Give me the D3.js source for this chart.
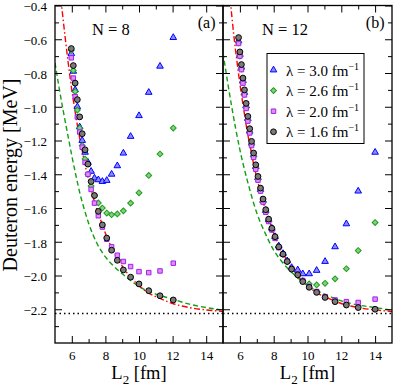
<!DOCTYPE html>
<html><head><meta charset="utf-8">
<script src="https://cdn.jsdelivr.net/npm/d3@7"></script>
<style>
body{margin:0;background:#fff}
svg{display:block}
text{font-family:"Liberation Serif","Times New Roman",serif;fill:#000}
</style>
</head><body>
<svg id="c" width="395" height="387"></svg>
<script>
// ---------- data ----------
// Panel (a): N = 8
const L8   = [5.97, 6.09, 6.2, 6.33, 6.47, 6.62, 6.79, 6.96, 7.15, 7.35, 7.58, 7.82, 8.08, 8.37, 8.71, 9.07, 9.5, 10.0, 10.58, 11.25, 12.04];
const tri8 = [-0.685, -0.79, -0.90, -1.00, -1.12, -1.20, -1.27, -1.33, -1.383, -1.423, -1.433, -1.443, -1.437, -1.40, -1.35, -1.275, -1.176, -1.053, -0.915, -0.76, -0.59];
const dia8 = [-0.665, -0.785, -0.91, -1.02, -1.126, -1.23, -1.31, -1.40, -1.47, -1.525, -1.57, -1.60, -1.63, -1.64, -1.635, -1.617, -1.571, -1.51, -1.407, -1.28, -1.126];
const sq8  = [-0.71, -0.83, -0.94, -1.06, -1.15, -1.24, -1.33, -1.40, -1.49, -1.571, -1.646, -1.713, -1.785, -1.83, -1.88, -1.917, -1.947, -1.977, -1.983, -1.973, -1.927];
const cir8 = [-0.655, -0.756, -0.86, -0.958, -1.06, -1.16, -1.255, -1.34, -1.443, -1.526, -1.62, -1.70, -1.778, -1.85, -1.91, -1.967, -2.01, -2.05, -2.09, -2.12, -2.145];

// Panel (b): N = 12
const L12   = [5.92, 6.0, 6.09, 6.18, 6.27, 6.37, 6.47, 6.58, 6.69, 6.81, 6.94, 7.07, 7.22, 7.37, 7.53, 7.70, 7.89, 8.08, 8.3, 8.55, 8.8, 9.06, 9.42, 9.72, 10.1, 10.54, 11.04, 11.63, 12.3, 13.0, 14.0];
const tri12 = [-0.61, -0.69, -0.765, -0.845, -0.915, -0.995, -1.07, -1.145, -1.215, -1.285, -1.355, -1.42, -1.49, -1.555, -1.615, -1.67, -1.72, -1.77, -1.825, -1.87, -1.913, -1.953, -1.967, -1.99, -1.99, -1.97, -1.917, -1.83, -1.694, -1.50, -1.27];
const dia12 = [-0.62, -0.70, -0.775, -0.855, -0.925, -1.005, -1.08, -1.15, -1.225, -1.295, -1.36, -1.43, -1.495, -1.56, -1.62, -1.675, -1.725, -1.775, -1.83, -1.875, -1.92, -1.965, -2.0, -2.03, -2.05, -2.056, -2.046, -2.02, -1.96, -1.852, -1.686];
const sq12  = [-0.625, -0.70, -0.78, -0.86, -0.93, -1.01, -1.085, -1.155, -1.23, -1.30, -1.37, -1.435, -1.50, -1.565, -1.625, -1.68, -1.73, -1.78, -1.835, -1.875, -1.915, -1.958, -1.99, -2.03, -2.065, -2.095, -2.125, -2.145, -2.155, -2.16, -2.14];
const cir12 = [-0.59, -0.675, -0.75, -0.83, -0.9, -0.98, -1.057, -1.13, -1.205, -1.274, -1.344, -1.413, -1.482, -1.547, -1.61, -1.666, -1.72, -1.77, -1.83, -1.873, -1.917, -1.962, -1.996, -2.036, -2.07, -2.10, -2.13, -2.155, -2.175, -2.19, -2.2];

// Red dash-dot and green dashed curves
const redL8  = [5.35, 5.6, 5.8, 6.0, 6.2, 6.4, 6.6, 6.8, 7.0, 7.25, 7.5, 7.75, 8.0, 8.5, 9.0, 9.5, 10, 10.5, 11, 12, 13, 14, 15];
const redL12 = [5.42, 5.65, 5.85, 6.05, 6.25, 6.44, 6.64, 6.83, 7.03, 7.27, 7.52, 7.76, 8.0, 8.5, 9.0, 9.5, 10, 10.5, 11, 12, 13, 14, 15];
const redE   = [-0.36, -0.585, -0.75, -0.90, -1.03, -1.15, -1.25, -1.35, -1.43, -1.53, -1.61, -1.68, -1.75, -1.86, -1.945, -2.01, -2.06, -2.10, -2.125, -2.166, -2.19, -2.204, -2.213];
const grnL8  = [5.0, 5.25, 5.5, 5.75, 6.0, 6.25, 6.5, 6.75, 7.0, 7.5, 8.0, 8.5, 9.0, 9.5, 10, 11, 12, 13, 14, 15];
const grnE8  = [-0.74, -0.89, -1.03, -1.16, -1.29, -1.41, -1.52, -1.61, -1.69, -1.81, -1.89, -1.945, -1.99, -2.03, -2.065, -2.11, -2.14, -2.17, -2.19, -2.205];
const grnL12 = [5.0, 5.25, 5.5, 5.75, 6.0, 6.5, 7.0, 7.5, 8.0, 8.5, 9.0, 9.5, 10, 11, 12, 13, 14, 15];
const grnE12 = [-0.68, -0.84, -0.99, -1.13, -1.255, -1.46, -1.63, -1.75, -1.85, -1.92, -1.975, -2.02, -2.06, -2.11, -2.15, -2.175, -2.19, -2.205];
const deuteronE = -2.2246;

// axes / labels
const xMajor = [6, 8, 10, 12, 14];
const xMinor = [7, 9, 11, 13];
const yMajor = [-2.2, -2.0, -1.8, -1.6, -1.4, -1.2, -1.0, -0.8, -0.6, -0.4];
const yMinor = [-2.3, -2.1, -1.9, -1.7, -1.5, -1.3, -1.1, -0.9, -0.7, -0.5];
const legendLabels = ["λ = 3.0 fm", "λ = 2.6 fm", "λ = 2.0 fm", "λ = 1.6 fm"];
const panelTitles = ["N = 8", "N = 12"];
const panelTags = ["(a)", "(b)"];

// ---------- drawing ----------
const svg = d3.select('#c');
const yTop = 5.5, yBot = 343;
const y = d3.scaleLinear().domain([-2.4, -0.4]).range([yBot, yTop]);

const styles = {
  tri: {stroke: '#0000ff', fill: '#8c8cff'},
  dia: {stroke: '#1e9a1e', fill: '#7fd37f'},
  sq:  {stroke: '#a020f0', fill: '#e08ef0'},
  cir: {stroke: '#000000', fill: '#7a7a7a'}
};
function marker(g, type, cx, cy) {
  const s = styles[type];
  let el;
  if (type === 'cir') {
    el = g.append('circle').attr('cx', cx).attr('cy', cy).attr('r', 2.9);
  } else if (type === 'tri') {
    el = g.append('path').attr('d', d3.symbol(d3.symbolTriangle, 19)()).attr('transform', `translate(${cx},${cy})`);
  } else if (type === 'dia') {
    el = g.append('path').attr('d', d3.symbol(d3.symbolSquare, 17)()).attr('transform', `translate(${cx},${cy}) rotate(45)`);
  } else {
    el = g.append('path').attr('d', d3.symbol(d3.symbolSquare, 20)()).attr('transform', `translate(${cx},${cy})`);
  }
  el.attr('fill', s.fill).attr('stroke', s.stroke).attr('stroke-width', 1);
}

const panels = [
  {x: d3.scaleLinear().domain([5, 15]).range([55, 223]), L: L8,
   series: [['tri', tri8], ['dia', dia8], ['sq', sq8], ['cir', cir8]],
   red: [redL8, redE], grn: [grnL8, grnE8], ylab: true},
  {x: d3.scaleLinear().domain([5, 15]).range([223, 392]), L: L12,
   series: [['tri', tri12], ['dia', dia12], ['sq', sq12], ['cir', cir12]],
   red: [redL12, redE], grn: [grnL12, grnE12], ylab: false}
];

panels.forEach((p, i) => {
  const x = p.x;
  const [x0, x1] = x.range();
  const clipId = 'clip' + i;
  svg.append('clipPath').attr('id', clipId).append('rect')
    .attr('x', x0).attr('y', yTop).attr('width', x1 - x0).attr('height', yBot - yTop);
  const g = svg.append('g');
  const gc = g.append('g').attr('clip-path', `url(#${clipId})`);

  gc.append('line').attr('x1', x0).attr('x2', x1)
    .attr('y1', y(deuteronE)).attr('y2', y(deuteronE))
    .attr('stroke', '#000').attr('stroke-width', 1.5).attr('stroke-dasharray', '1.5,3');

  const line = d3.line().x(d => x(d[0])).y(d => y(d[1])).curve(d3.curveMonotoneX);
  gc.append('path').datum(p.grn[0].map((l, k) => [l, p.grn[1][k]]))
    .attr('d', line).attr('fill', 'none').attr('stroke', '#10a010')
    .attr('stroke-width', 1.4).attr('stroke-dasharray', '5,3');
  gc.append('path').datum(p.red[0].map((l, k) => [l, p.red[1][k]]))
    .attr('d', line).attr('fill', 'none').attr('stroke', '#ff0000')
    .attr('stroke-width', 1.4).attr('stroke-dasharray', '6,2.5,1.5,2.5');

  p.series.forEach(([type, vals]) => {
    const gm = gc.append('g');
    vals.forEach((v, k) => marker(gm, type, x(p.L[k]), y(v)));
  });

  const clean = s => s.call(a => a.select('.domain').remove());
  g.append('g').attr('transform', `translate(0,${yBot})`)
    .call(d3.axisBottom(x).tickValues(xMajor).tickSize(-7).tickPadding(8).tickFormat(d3.format('d'))).call(clean);
  g.append('g').attr('transform', `translate(0,${yBot})`)
    .call(d3.axisBottom(x).tickValues(xMinor).tickSize(-4).tickFormat('')).call(clean);
  g.append('g').attr('transform', `translate(0,${yTop})`)
    .call(d3.axisTop(x).tickValues(xMajor).tickSize(-7).tickFormat('')).call(clean);
  g.append('g').attr('transform', `translate(0,${yTop})`)
    .call(d3.axisTop(x).tickValues(xMinor).tickSize(-4).tickFormat('')).call(clean);
  const yl = g.append('g').attr('transform', `translate(${x0},0)`)
    .call(d3.axisLeft(y).tickValues(yMajor).tickSize(-7).tickPadding(8)
      .tickFormat(p.ylab ? d3.format('.1f') : '')).call(clean);
  yl.selectAll('.tick text').attr('y', 1.2);
  g.append('g').attr('transform', `translate(${x0},0)`)
    .call(d3.axisLeft(y).tickValues(yMinor).tickSize(-4).tickFormat('')).call(clean);
  g.append('g').attr('transform', `translate(${x1},0)`)
    .call(d3.axisRight(y).tickValues(yMajor).tickSize(-7).tickFormat('')).call(clean);
  g.append('g').attr('transform', `translate(${x1},0)`)
    .call(d3.axisRight(y).tickValues(yMinor).tickSize(-4).tickFormat('')).call(clean);

  g.selectAll('.tick text').style('font-family', '"Liberation Serif","Times New Roman",serif').style('font-size', '13px').attr('fill', '#000');
  g.selectAll('.tick line').attr('stroke', '#000').attr('stroke-width', 1);

  g.append('rect').attr('x', x0).attr('y', yTop).attr('width', x1 - x0).attr('height', yBot - yTop)
    .attr('fill', 'none').attr('stroke', '#000').attr('stroke-width', 1.3);

  const xt = g.append('text').attr('x', (x0 + x1) / 2).attr('y', 379).attr('text-anchor', 'middle').style('font-size', '18.5px');
  xt.append('tspan').text('L');
  xt.append('tspan').attr('dy', 5).style('font-size', '13px').text('2');
  xt.append('tspan').attr('dy', -5).text(' [fm]');

  g.append('text').attr('x', i === 0 ? 92 : 262).attr('y', 35).style('font-size', '16.5px').text(panelTitles[i]);
  g.append('text').attr('x', x1 - 7.5).attr('y', 28).attr('text-anchor', 'end').style('font-size', '16px').text(panelTags[i]);
});

svg.append('text').attr('transform', 'translate(17,175) rotate(-90)').attr('text-anchor', 'middle')
  .style('font-size', '20px').text('Deuteron energy [MeV]');

const lg = svg.append('g');
lg.append('rect').attr('x', 267).attr('y', 53.5).attr('width', 97).attr('height', 90)
  .attr('fill', '#fff').attr('stroke', '#000').attr('stroke-width', 1);
['tri', 'dia', 'sq', 'cir'].forEach((t, k) => {
  const cy = 70 + k * 20.6;
  marker(lg, t, 273.5, cy);
  const tx = lg.append('text').attr('x', 286).attr('y', cy + 5.5).style('font-size', '15px');
  tx.append('tspan').text(legendLabels[k]);
  tx.append('tspan').attr('dy', -6).style('font-size', '10px').text('−1');
});
</script>
</body></html>
